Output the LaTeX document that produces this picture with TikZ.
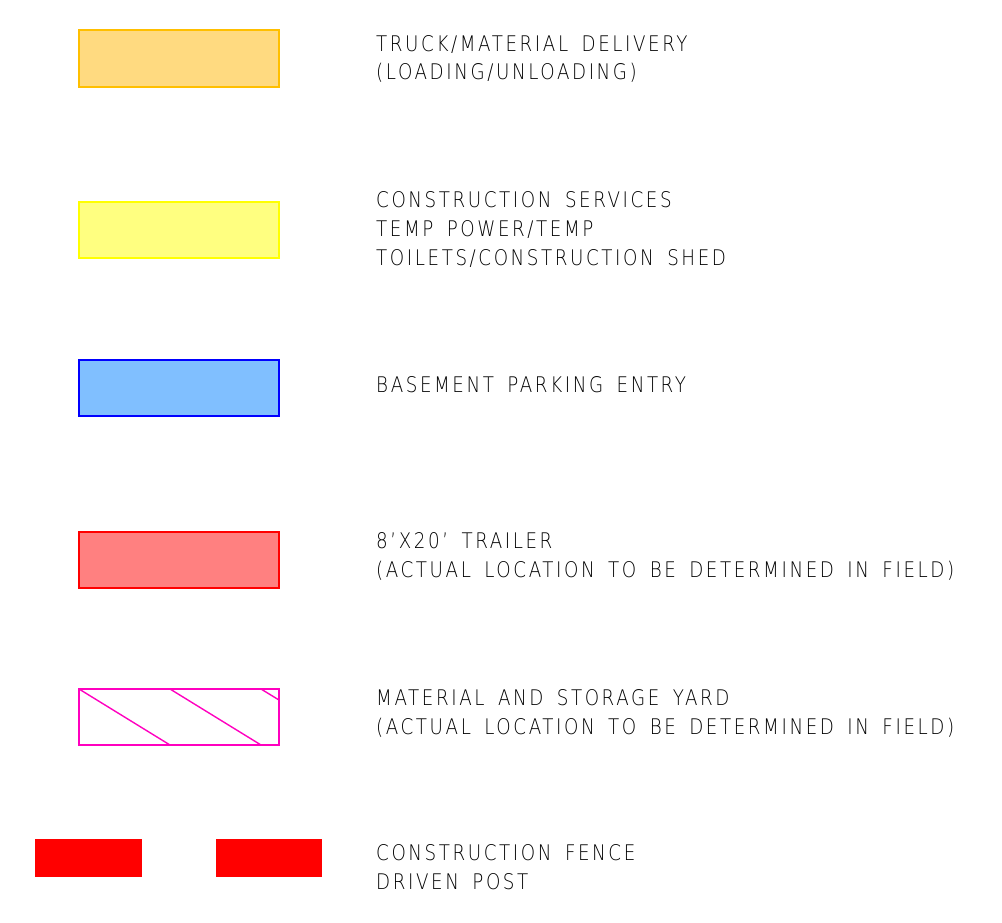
\documentclass[tikz,border=0pt]{standalone}
\usepackage{fontspec}
\setmainfont{DejaVu Sans ExtraLight}[FakeStretch=0.85,LetterSpace=12,WordSpace=1.6]
\definecolor{orfill}{HTML}{FFDA80}
\definecolor{ordraw}{HTML}{FFBF00}
\definecolor{yefill}{HTML}{FFFF80}
\definecolor{yedraw}{HTML}{FFFF00}
\definecolor{blfill}{HTML}{80BFFF}
\definecolor{bldraw}{HTML}{0000FF}
\definecolor{rdfill}{HTML}{FF8080}
\definecolor{rddraw}{HTML}{FF0000}
\definecolor{magen}{HTML}{FF00BF}
\tikzset{
  legbox/.style={line width=1.4pt},
  legtext/.style={anchor=base west,inner sep=0pt,align=left,font=\fontsize{21.5}{28.7}\selectfont},
}
\begin{document}
\begin{tikzpicture}[x=1pt,y=-1pt]
\useasboundingbox (0,0) rectangle (1002,923);
\draw[legbox,draw=ordraw,fill=orfill] (79,30) rectangle (279,87);
\draw[legbox,draw=yedraw,fill=yefill] (79,202) rectangle (279,258);
\draw[legbox,draw=bldraw,fill=blfill] (79,360) rectangle (279,416);
\draw[legbox,draw=rddraw,fill=rdfill] (79,532) rectangle (279,588);
\draw[legbox,draw=magen] (79,689) rectangle (279,745);
\draw[line width=1.4pt,magen] (79,689) -- (170,745) (170,689) -- (261,745) (261,689) -- (279,700);
\fill[rddraw] (35,839) rectangle (142,877);
\fill[rddraw] (216,839) rectangle (322,877);
\node[legtext] (t1) at (376,80) {TRUCK/MATERIAL DELIVERY\\(LOADING/UNLOADING)};
\node[legtext] (t2) at (376,265) {CONSTRUCTION SERVICES\\TEMP POWER/TEMP\\TOILETS/CONSTRUCTION SHED};
\node[legtext] (t3) at (376,392) {BASEMENT PARKING ENTRY};
\node[legtext] (t4) at (376,577) {8'X20' TRAILER\\(ACTUAL LOCATION TO BE DETERMINED IN FIELD)};
\node[legtext] (t5) at (376,734) {MATERIAL AND STORAGE YARD\\(ACTUAL LOCATION TO BE DETERMINED IN FIELD)};
\node[legtext] (t6) at (376,889) {CONSTRUCTION FENCE\\DRIVEN POST};
\end{tikzpicture}
\end{document}
